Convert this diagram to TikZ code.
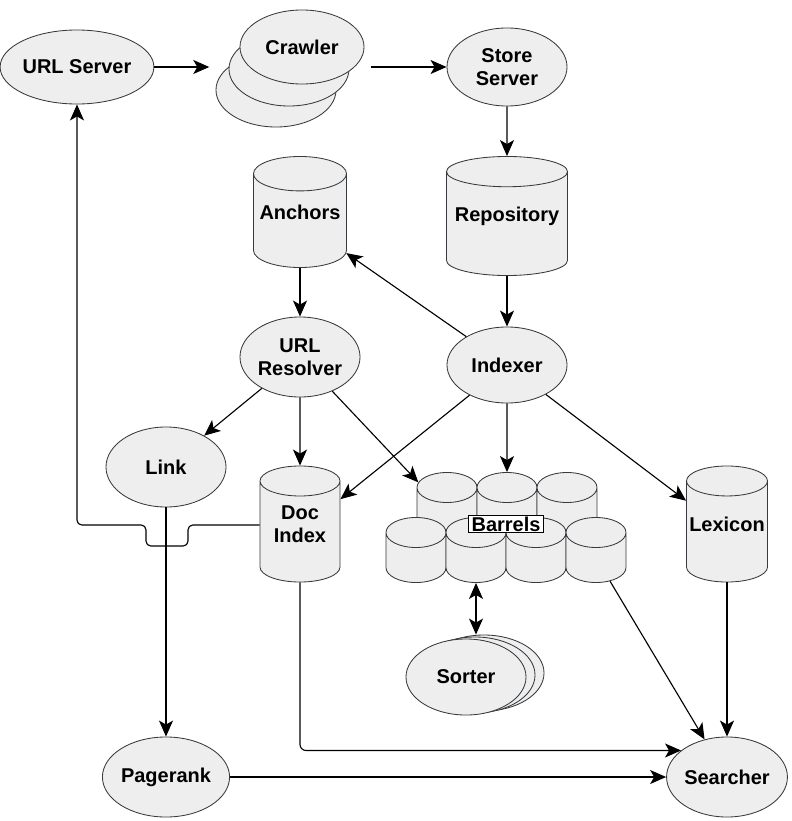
\documentclass[tikz,border=0pt]{standalone}
\usepackage{fontspec}
\setmainfont{Liberation Sans}
\usetikzlibrary{shapes.geometric, arrows.meta, fit}
\definecolor{shapefill}{HTML}{EEEEEE}
\definecolor{shapeline}{HTML}{36393D}
\newcommand{\lbl}{\fontsize{14.2pt}{16.4pt}\selectfont\bfseries}

\begin{document}
\begin{tikzpicture}[x=0.025cm, y=-0.025cm,
        proc/.style={ellipse, draw=shapeline, fill=shapefill, line width=0.6pt, inner sep=0pt,
            minimum width=3cm, minimum height=2cm, font=\lbl, align=center},
        store/.style={cylinder, shape border rotate=90, draw=shapeline, fill=shapefill, line width=0.6pt,
            inner sep=0pt, anchor=shape center},
        storetext/.style={font=\lbl, align=center, inner sep=0pt},
        barrel/.style={store, text width=1.5cm, minimum width=1.5cm, minimum height=1.625cm, aspect=0.5},
        flow/.style={-{Stealth[length=0.4cm, width=0.35cm, inset=0.1cm]}, line width=0.8pt},
        both/.style={{Stealth[length=0.4cm, width=0.35cm, inset=0.1cm]}-{Stealth[length=0.4cm, width=0.35cm, inset=0.1cm]}, line width=0.8pt}]
        \useasboundingbox (0,0) rectangle (791,821);

        % crawling
        \node[proc, minimum width=3.5cm, minimum height=1.85cm] at (77,67) (urlsrv) {URL Server};
        \node[proc, minimum width=3cm, minimum height=1.85cm] at (276,90) (crawlerc) {};
        \node[proc, minimum width=3cm, minimum height=1.85cm] at (289,69) (crawlerb) {};
        \node[proc, minimum width=3.1cm, minimum height=1.85cm] at (302,47) (crawler) {Crawler};
        \node[fit=(crawlerc.west)(crawler.east)(crawler.north)(crawlerc.south), inner xsep=0.15cm, inner ysep=0pt] (crawlers) {};
        \node[proc, minimum height=1.95cm] at (507,67) (storesrv) {Store\\Server};
        \draw[flow] (urlsrv.east) -- (urlsrv.east -| crawlers.west);
        \draw[flow] (crawlers.east |- storesrv.west) -- (storesrv.west);

        % indexing
        \node[store, text width=3.025cm, minimum width=3.025cm, minimum height=2.975cm, aspect=0.25] at (507,216) (repo) {};
        \node[storetext] at (repo.shape center) (repotext) {Repository};
        \node[store, text width=2.325cm, minimum width=2.325cm, minimum height=2.775cm, aspect=0.37] at (300,212) (anchors) {};
        \node[storetext] at (anchors.shape center) (anchorstext) {Anchors};
        \node[proc] at (300,357) (urlres) {URL\\Resolver};
        \node[proc, minimum height=1.9cm] at (507,365) (indexer) {Indexer};
        \node[proc] at (166,467) (link) {Link};
        \node[store, text width=2cm, minimum width=2cm, minimum height=2.9cm, aspect=0.375] at (300,524) (docidx) {};
        \node[storetext] at (docidx.shape center) (docidxtext) {Doc\\Index};
        \node[store, text width=2.025cm, minimum width=2.025cm, minimum height=2.9cm, aspect=0.37] at (727,524) (lexicon) {};
        \node[storetext] at (lexicon.shape center) (lexicontext) {Lexicon};

        % barrels
        \node[barrel] at (447,505) (barrel1) {};
        \node[barrel] at (507,505) (barrel2) {};
        \node[barrel] at (567,505) (barrel3) {};
        \node[barrel] at (416,550) (barrel4) {};
        \node[barrel] at (476,550) (barrel5) {};
        \node[barrel] at (536,550) (barrel6) {};
        \node[barrel] at (596,550) (barrel7) {};
        \node[draw, fill=white, line width=0.6pt, inner xsep=2pt, inner ysep=1pt, font=\lbl] at (506,524) (barrels) {Barrels};

        \node[proc, minimum height=1.9cm] at (484,673) (sorterc) {};
        \node[proc, minimum height=1.9cm] at (475,675) (sorterb) {};
        \node[proc, minimum height=1.9cm] at (466,677) (sorter) {Sorter};

        \node[proc] at (166,777) (pagerank) {Pagerank};
        \node[proc] at (727,777) (searcher) {Searcher};

        \draw[flow] (storesrv) -- (repo);
        \draw[flow] (repo) -- (indexer);
        \draw[flow] (anchors) -- (urlres);
        \draw[flow] (indexer) -- (anchors);
        \draw[flow] (urlres) -- (link);
        \draw[flow] (urlres) -- (docidx);
        \draw[flow] (urlres) -- (barrel1);
        \draw[flow] (indexer) -- (docidx);
        \draw[flow] (indexer) -- (barrel2);
        \draw[flow] (indexer) -- (lexicon);
        \draw[both] (barrel5.south) -- (barrel5.south |- sorterc.north);

        \draw[flow] (link) -- (pagerank);
        \draw[flow] (pagerank) -- (searcher);
        \draw[flow] (lexicon) -- (searcher);
        \draw[flow] (barrel7) -- (searcher);
        \draw[flow, rounded corners=0.15cm] (docidx.south) |- (searcher.150);
        \draw[flow, rounded corners=0.12cm] (docidx.west |- 0,525) -- (188,525) -- (188,546)
            -- (146,546) -- (146,525) -- (77,525) -- (urlsrv.south);
\end{tikzpicture}
\end{document}
